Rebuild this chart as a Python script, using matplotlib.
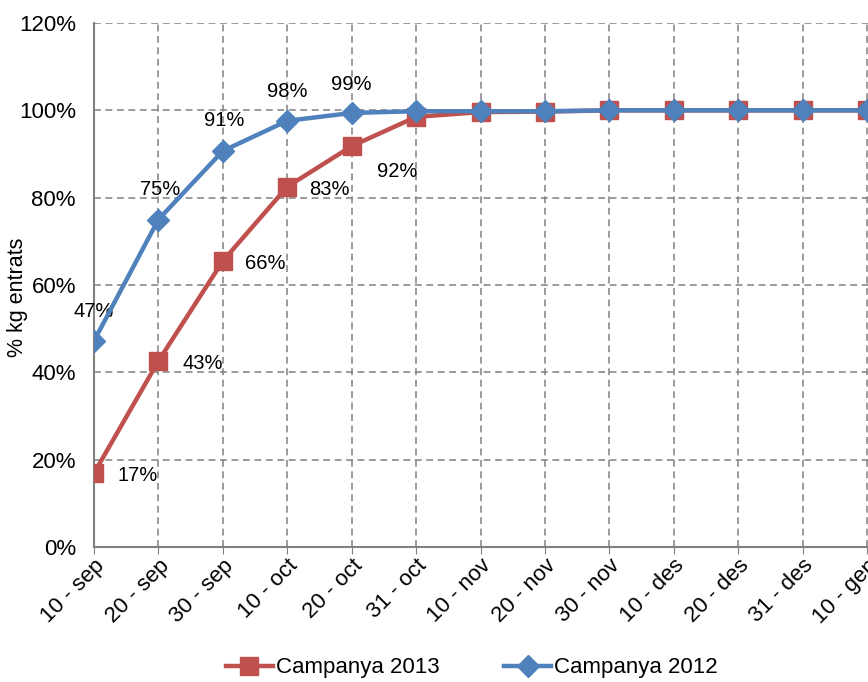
import matplotlib
matplotlib.use("Agg")
import matplotlib.pyplot as plt
from matplotlib.ticker import FuncFormatter

plt.rcParams['font.family'] = ['Liberation Sans', 'DejaVu Sans']

categories = ["10 - sep", "20 - sep", "30 - sep", "10 - oct", "20 - oct", "31 - oct",
              "10 - nov", "20 - nov", "30 - nov", "10 - des", "20 - des", "31 - des", "10 - gen"]
campanya_2013 = [16.9, 42.6, 65.5, 82.5, 91.8, 98.5, 99.6, 99.7, 100, 100, 100, 100, 100]
campanya_2012 = [47.2, 75.0, 90.7, 97.6, 99.4, 99.8, 99.8, 99.8, 100, 100, 100, 100, 100]
labels_2013 = ["17%", "43%", "66%", "83%", "92%"]
labels_2012 = ["47%", "75%", "91%", "98%", "99%"]

red = "#C0504D"
blue = "#4F81BD"

fig = plt.figure(figsize=(8.68, 6.82), dpi=100)
ax = fig.add_axes([94/868, 1 - 547/682, 775/868, (547-23)/682])

x = list(range(len(categories)))
l13, = ax.plot(x, campanya_2013, color=red, lw=3.2, marker='s', markersize=13,
               markeredgecolor=red, label="Campanya 2013", zorder=3, clip_on=True)
l12, = ax.plot(x, campanya_2012, color=blue, lw=3.2, marker='D', markersize=11,
               markeredgecolor=blue, label="Campanya 2012", zorder=4, clip_on=True)

ax.set_xlim(0, 12.03)
ax.set_ylim(0, 120)
ax.set_yticks(range(0, 121, 20))
ax.yaxis.set_major_formatter(FuncFormatter(lambda v, p: f"{int(v)}%"))
ax.set_xticks(x)
ax.set_xticklabels(categories, rotation=45, ha='right', va='top', rotation_mode='anchor')

ax.grid(True, color='#808080', linestyle=(0, (4.5, 3)), linewidth=1.1)
ax.set_axisbelow(True)
for s in ['top', 'right']:
    ax.spines[s].set_visible(False)
for s in ['left', 'bottom']:
    ax.spines[s].set_color('#808080')
    ax.spines[s].set_linewidth(1.5)
ax.tick_params(axis='y', length=0, labelsize=16, pad=13)
ax.tick_params(axis='x', length=5, color='#808080', labelsize=16, pad=1)

ax.set_ylabel("% kg entrats", fontsize=15.5)
ax.yaxis.set_label_coords((28 - 94) / 775, (547 - 297) / 524)

# data labels
offs12 = [(0, 14), (1, 15), (1, 15), (0, 14), (0, 14)]
for i, (lab, (dx, dy)) in enumerate(zip(labels_2012, offs12)):
    ax.annotate(lab, (x[i], campanya_2012[i]), xytext=(dx, dy), textcoords='offset points',
                ha='center', va='bottom', fontsize=14.5)
offs13 = [(17, -2), (17, -2), (16, -2), (16, -2), (18, -18)]
for i, (lab, (dx, dy)) in enumerate(zip(labels_2013, offs13)):
    ax.annotate(lab, (x[i], campanya_2013[i]), xytext=(dx, dy), textcoords='offset points',
                ha='left', va='center', fontsize=14.5)

fig.legend(handles=[l13, l12], loc='center', bbox_to_anchor=(472/868, 1 - 668/682),
           ncol=2, frameon=False, fontsize=16, handlelength=2.1, columnspacing=2.9,
           handletextpad=0.15)

fig.savefig("out.png", dpi=100)
